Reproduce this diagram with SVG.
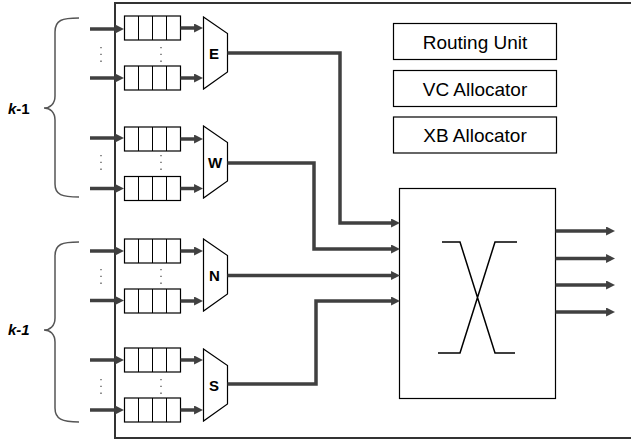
<svg xmlns="http://www.w3.org/2000/svg" width="631" height="439" viewBox="0 0 631 439">
<defs>
<style>
.frame{fill:none;stroke:#333;stroke-width:2}
.box{fill:#fff;stroke:#000;stroke-width:1.2}
.cell{fill:none;stroke:#000;stroke-width:1}
.wire{fill:none;stroke:#404040;stroke-width:3.5;marker-end:url(#ah)}
.brace{fill:none;stroke:#555;stroke-width:1.5}
.dots{fill:none;stroke:#555;stroke-width:1.3;stroke-dasharray:1.3 5.5}
.lbl{font-family:"Liberation Sans",Arial,sans-serif;font-size:19px;fill:#000;text-anchor:middle}
.mux{font-family:"Liberation Sans",Arial,sans-serif;font-size:15px;font-weight:bold;fill:#000;text-anchor:middle}
.k{font-family:"Liberation Sans",Arial,sans-serif;font-size:15px;font-weight:bold;fill:#000}
.xb{fill:none;stroke:#000;stroke-width:1.5}
</style>
<marker id="ah" viewBox="0 0 10 10" refX="5.5" refY="5" markerWidth="9" markerHeight="9" markerUnits="userSpaceOnUse" orient="auto">
<path d="M0,0 L10,5 L0,10 z" fill="#404040"/>
</marker>
<g id="queue">
<rect class="box" x="0" y="0" width="56" height="24"/>
<path class="cell" d="M14,0 V24 M28,0 V24 M42,0 V24"/>
</g>
</defs>
<rect width="631" height="439" fill="#fff"/>
<rect class="frame" x="115" y="3" width="530" height="435"/>

<g id="braces">
<path class="brace" d="M79,18 C62,18 55,20 55,32 V96 C55,104 50,108 44,108 C50,108 55,112 55,120 V184 C55,195 62,197 79,197"/>
<path class="brace" d="M79,242 C62,242 55,244 55,256 V318 C55,326 50,330 44,330 C50,330 55,334 55,342 V408 C55,419 62,422 79,422"/>
<text class="k" x="8" y="113.5"><tspan font-style="italic">k</tspan>-1</text>
<text class="k" x="8" y="334.5" font-style="italic">k-1</text>
</g>

<g id="queues">
<use href="#queue" x="124.5" y="16"/>
<use href="#queue" x="124.5" y="66"/>
<use href="#queue" x="124.5" y="127"/>
<use href="#queue" x="124.5" y="176.5"/>
<use href="#queue" x="124.5" y="239"/>
<use href="#queue" x="124.5" y="289"/>
<use href="#queue" x="124.5" y="348"/>
<use href="#queue" x="124.5" y="398"/>
</g>

<g id="dots">
<path class="dots" d="M101,47 V63 M161,47 V63 M101,155 V171 M161,155 V171 M101,269 V285 M161,269 V285 M101,379 V395 M161,379 V395"/>
</g>

<g id="mux-E">
<polygon class="box" points="203.5,17 227.5,33.5 227.5,72 203.5,89"/>
<text class="mux" x="214" y="58.5">E</text>
</g>
<g id="mux-W">
<polygon class="box" points="203.5,126 227.5,142.5 227.5,181 203.5,198"/>
<text class="mux" x="215" y="168">W</text>
</g>
<g id="mux-N">
<polygon class="box" points="203.5,239 227.5,255.5 227.5,294 203.5,311"/>
<text class="mux" x="214.5" y="281">N</text>
</g>
<g id="mux-S">
<polygon class="box" points="203.5,349 227.5,365.5 227.5,404 203.5,421"/>
<text class="mux" x="214" y="390.5">S</text>
</g>

<g id="routing-unit">
<rect class="box" x="393.5" y="23.5" width="163" height="36"/>
<text class="lbl" x="475" y="48.5">Routing Unit</text>
</g>
<g id="vc-allocator">
<rect class="box" x="393.5" y="70.5" width="163" height="36"/>
<text class="lbl" x="475" y="95.5">VC Allocator</text>
</g>
<g id="xb-allocator">
<rect class="box" x="393.5" y="117" width="163" height="36"/>
<text class="lbl" x="475" y="142">XB Allocator</text>
</g>

<g id="crossbar">
<rect class="box" x="399.5" y="188.5" width="156" height="210"/>
<path class="xb" d="M442,242 H460 L495,353 H515 M517,242 H495 L460,353 H438"/>
</g>

<g id="connectors">
<path class="wire" d="M90,29 H120"/>
<path class="wire" d="M90,78 H120"/>
<path class="wire" d="M90,138 H120"/>
<path class="wire" d="M90,188.5 H120"/>
<path class="wire" d="M90,251 H120"/>
<path class="wire" d="M90,300.5 H120"/>
<path class="wire" d="M90,360 H120"/>
<path class="wire" d="M90,410 H120"/>
<path class="wire" d="M180.5,28 H199"/>
<path class="wire" d="M180.5,78 H199"/>
<path class="wire" d="M180.5,139 H199"/>
<path class="wire" d="M180.5,188.5 H199"/>
<path class="wire" d="M180.5,251 H199"/>
<path class="wire" d="M180.5,301 H199"/>
<path class="wire" d="M180.5,360 H199"/>
<path class="wire" d="M180.5,410 H199"/>
<path class="wire" d="M227.5,53 H340 V223 H396"/>
<path class="wire" d="M227.5,163 H314 V249 H396"/>
<path class="wire" d="M227.5,275.5 H396"/>
<path class="wire" d="M227.5,384 H316 V301 H396"/>
<path class="wire" d="M555.5,231 H611"/>
<path class="wire" d="M555.5,258.5 H611"/>
<path class="wire" d="M555.5,285 H611"/>
<path class="wire" d="M555.5,312 H611"/>
</g>
</svg>
